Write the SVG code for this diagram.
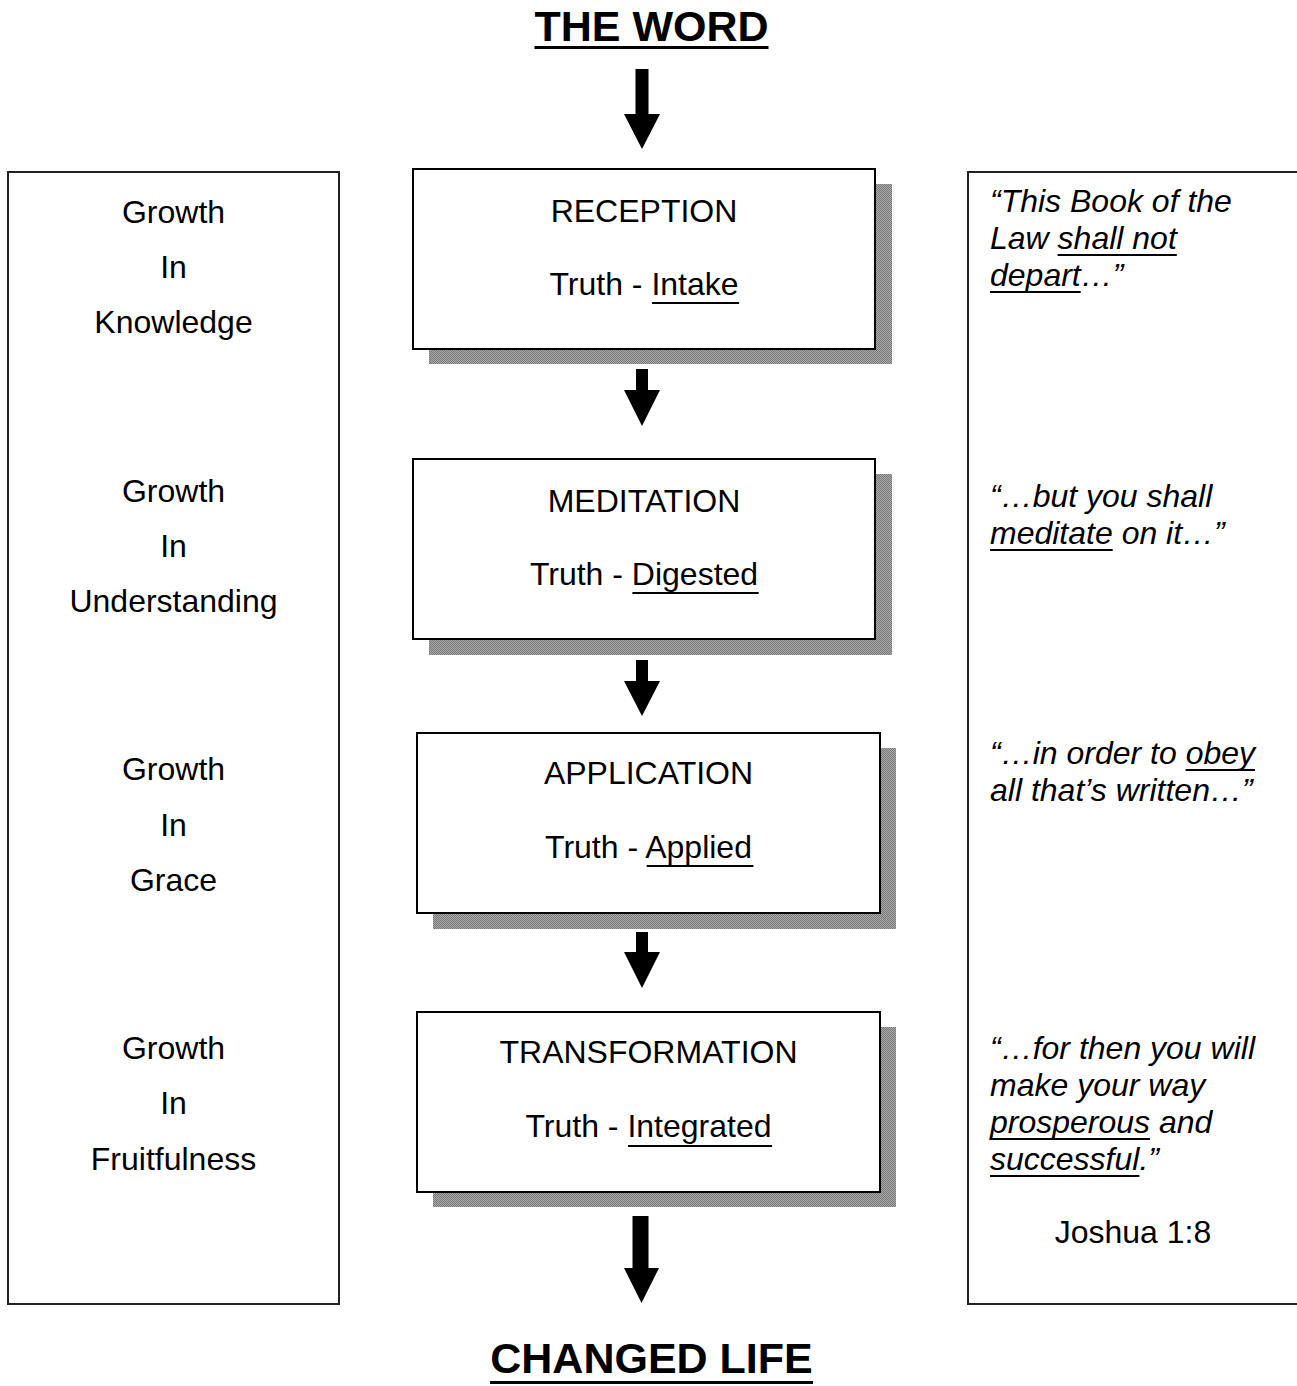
<svg xmlns="http://www.w3.org/2000/svg" width="1297" height="1386" viewBox="0 0 1297 1386">
<defs>
<pattern id="dots" width="2" height="2" patternUnits="userSpaceOnUse">
<rect width="2" height="2" fill="#a8a8a8"/>
<rect width="1" height="1" fill="#7a7a7a"/>
<rect x="1" y="1" width="1" height="1" fill="#7a7a7a"/>
</pattern>
</defs>
<style>
text{font-family:"Liberation Sans",Arial,sans-serif;fill:#000}
.title{font-size:43px;font-weight:bold;text-anchor:middle}
.box{fill:#fff;stroke:#000;stroke-width:2}
.shadow{fill:url(#dots)}
.frame{fill:#fff;stroke:#222;stroke-width:2}
.c{font-size:32px;text-anchor:middle}
.l{font-size:32px;text-anchor:middle}
.q{font-size:32px;font-style:italic}
.ul{stroke:#000;stroke-width:2}
.ulb{stroke:#000;stroke-width:3}
.arrow{fill:#000}
</style>
<rect width="1297" height="1386" fill="#fff"/>

<g id="title-top">
<text class="title" x="651.5" y="41">THE WORD</text>
<line class="ulb" x1="534.5" y1="47.5" x2="768.5" y2="47.5"/>
</g>

<g id="left-panel">
<rect class="frame" x="8" y="172" width="331" height="1132"/>
<text class="l" x="173.5" y="223">Growth</text>
<text class="l" x="173.5" y="278">In</text>
<text class="l" x="173.5" y="333">Knowledge</text>
<text class="l" x="173.5" y="502">Growth</text>
<text class="l" x="173.5" y="557">In</text>
<text class="l" x="173.5" y="612">Understanding</text>
<text class="l" x="173.5" y="780">Growth</text>
<text class="l" x="173.5" y="836">In</text>
<text class="l" x="173.5" y="891">Grace</text>
<text class="l" x="173.5" y="1059">Growth</text>
<text class="l" x="173.5" y="1114">In</text>
<text class="l" x="173.5" y="1170">Fruitfulness</text>
</g>

<g id="right-panel">
<rect class="frame" x="968" y="172" width="332" height="1132"/>
<text class="q" x="990" y="212">“This Book of the</text>
<text class="q" x="990" y="249">Law shall not</text>
<line class="ul" x1="1057.6" y1="255" x2="1176.8" y2="255"/>
<text class="q" x="990" y="286">depart…”</text>
<line class="ul" x1="990" y1="292" x2="1080.7" y2="292"/>
<text class="q" x="990" y="507">“…but you shall</text>
<text class="q" x="990" y="544">meditate on it…”</text>
<line class="ul" x1="990" y1="550" x2="1112.7" y2="550"/>
<text class="q" x="990" y="764">“…in order to obey</text>
<line class="ul" x1="1185.6" y1="770" x2="1255" y2="770"/>
<text class="q" x="990" y="801">all that’s written…”</text>
<text class="q" x="990" y="1059">“…for then you will</text>
<text class="q" x="990" y="1096">make your way</text>
<text class="q" x="990" y="1133">prosperous and</text>
<line class="ul" x1="990" y1="1139" x2="1150" y2="1139"/>
<text class="q" x="990" y="1170">successful.”</text>
<line class="ul" x1="990" y1="1176" x2="1139.4" y2="1176"/>
<text class="c" x="1133" y="1243">Joshua 1:8</text>
</g>

<g id="reception">
<rect class="shadow" x="429" y="184" width="463" height="180"/>
<rect class="box" x="413" y="169" width="462" height="180"/>
<text class="c" x="644" y="222">RECEPTION</text>
<text class="c" x="644" y="295">Truth - Intake</text>
<line class="ul" x1="652" y1="303" x2="739.1" y2="303"/>
</g>

<g id="meditation">
<rect class="shadow" x="429" y="474" width="463" height="181"/>
<rect class="box" x="413" y="459" width="462" height="180"/>
<text class="c" x="644" y="512">MEDITATION</text>
<text class="c" x="644" y="585">Truth - Digested</text>
<line class="ul" x1="632.4" y1="593" x2="758.7" y2="593"/>
</g>

<g id="application">
<rect class="shadow" x="433" y="748" width="463" height="181"/>
<rect class="box" x="417" y="733" width="463" height="180"/>
<text class="c" x="648.5" y="784">APPLICATION</text>
<text class="c" x="648.5" y="858">Truth - Applied</text>
<line class="ul" x1="646.7" y1="866" x2="753.4" y2="866"/>
</g>

<g id="transformation">
<rect class="shadow" x="433" y="1027" width="463" height="180"/>
<rect class="box" x="417" y="1012" width="463" height="180"/>
<text class="c" x="648.5" y="1063">TRANSFORMATION</text>
<text class="c" x="648.5" y="1137">Truth - Integrated</text>
<line class="ul" x1="628" y1="1146" x2="772.1" y2="1146"/>
</g>

<g id="title-bottom">
<text class="title" x="651.5" y="1373">CHANGED LIFE</text>
<line class="ulb" x1="490" y1="1382.5" x2="813" y2="1382.5"/>
</g>

<g id="connectors">
<polygon class="arrow" points="635.5,69 648.5,69 648.5,114 660,114 642,149 624,114 635.5,114"/>
<polygon class="arrow" points="636,369 648,369 648,390 660,390 642,426 624,390 636,390"/>
<polygon class="arrow" points="636,660 648,660 648,681 660,681 642,716 624,681 636,681"/>
<polygon class="arrow" points="636,932 648,932 648,952 660,952 642,988 624,952 636,952"/>
<polygon class="arrow" points="632.5,1216 648.5,1216 648.5,1268 659,1268 641.5,1303 624,1268 632.5,1268"/>
</g>
</svg>
